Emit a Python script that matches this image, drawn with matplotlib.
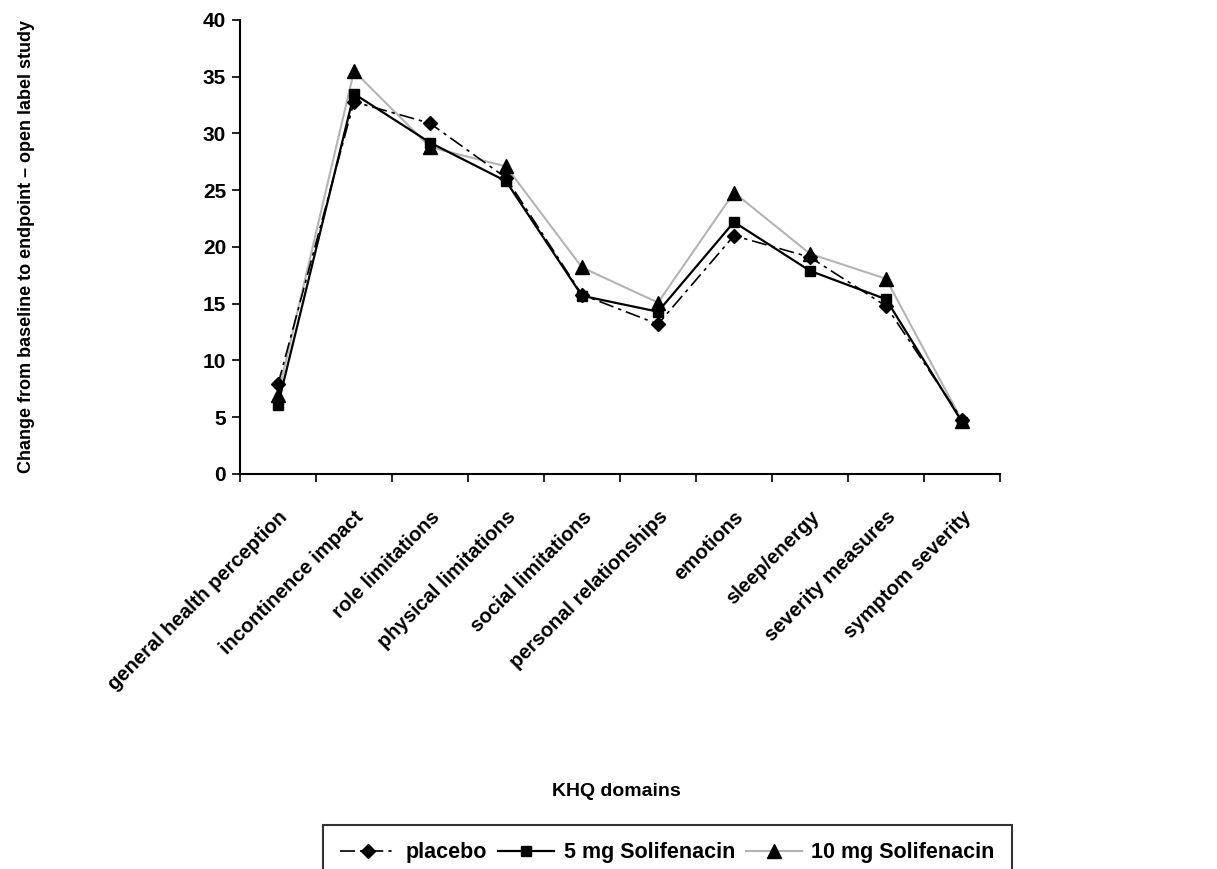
import matplotlib
matplotlib.use("Agg")
import matplotlib.pyplot as plt
import numpy as np

plt.rcParams['font.family'] = ['Liberation Sans', 'DejaVu Sans']
plt.rcParams['font.weight'] = 'bold'

domains = ["general health perception", "incontinence impact", "role limitations",
           "physical limitations", "social limitations", "personal relationships",
           "emotions", "sleep/energy", "severity measures", "symptom severity"]

placebo = [7.9, 32.8, 30.9, 26.1, 15.8, 13.2, 21.0, 19.1, 14.8, 4.8]
sol_5mg = [6.1, 33.5, 29.2, 25.8, 15.7, 14.3, 22.2, 17.9, 15.4, 4.6]
sol_10mg = [7.0, 35.5, 28.8, 27.1, 18.2, 15.1, 24.8, 19.4, 17.2, 4.7]

yticks = [0, 5, 10, 15, 20, 25, 30, 35, 40]

fig = plt.figure(figsize=(12.17, 8.69), dpi=100)
ax = fig.add_axes([240/1217, 1 - 474/869, 760/1217, 454/869])

x = np.arange(len(domains))
ax.plot(x, sol_10mg, color='#b4b4b4', lw=1.5, marker='^', ms=9.5,
        mfc='black', mec='black', label='10 mg Solifenacin', zorder=2)
ax.plot(x, sol_5mg, color='black', lw=1.6, marker='s', ms=7.5,
        mfc='black', mec='black', label='5 mg Solifenacin', zorder=3)
ax.plot(x, placebo, color='black', lw=1.2, dashes=(9, 3, 2, 3), marker='D', ms=7,
        mfc='black', mec='black', label='placebo', zorder=4)

ax.set_xlim(-0.5, len(domains) - 0.5)
ax.set_ylim(0, 40)
ax.set_yticks(yticks)
ax.set_yticklabels([str(v) for v in yticks], fontsize=15, fontweight='bold')

# category ticks between labels, labels at centres
ax.set_xticks(np.arange(len(domains) + 1) - 0.5)
ax.set_xticklabels([])
ax.set_xticks(x, minor=True)
ax.set_xticklabels(domains, minor=True, rotation=45, ha='right',
                   rotation_mode='anchor', fontsize=14.5, fontweight='bold')
ax.tick_params(axis='x', which='minor', length=0, pad=24)
ax.tick_params(axis='x', which='major', direction='out', length=6, width=1.2)
ax.tick_params(axis='y', direction='out', length=6, width=1.2, pad=4)

for s in ['top', 'right']:
    ax.spines[s].set_visible(False)
for s in ['left', 'bottom']:
    ax.spines[s].set_linewidth(1.5)

ax.set_xlabel('KHQ domains', fontsize=14, fontweight='bold', labelpad=0)
ax.xaxis.set_label_coords(0.495, -0.68)
ax.set_ylabel('Change from baseline to endpoint \u2013 open label study',
              fontsize=13, fontweight='bold')
ax.yaxis.set_label_coords(-0.27, 0.5)

h, l = ax.get_legend_handles_labels()
order = [2, 1, 0]
leg = fig.legend([h[i] for i in order], [l[i] for i in order], ncol=3,
                 loc='upper left', bbox_to_anchor=(323/1217, 44/869),
                 frameon=True, fancybox=False, edgecolor='black',
                 prop={'size': 15.5, 'weight': 'bold'}, handlelength=2.6,
                 columnspacing=0.5, handletextpad=0.45,
                 borderpad=0.8, borderaxespad=0)
leg.get_frame().set_linewidth(1.5)

fig.savefig('out.png', dpi=100)
